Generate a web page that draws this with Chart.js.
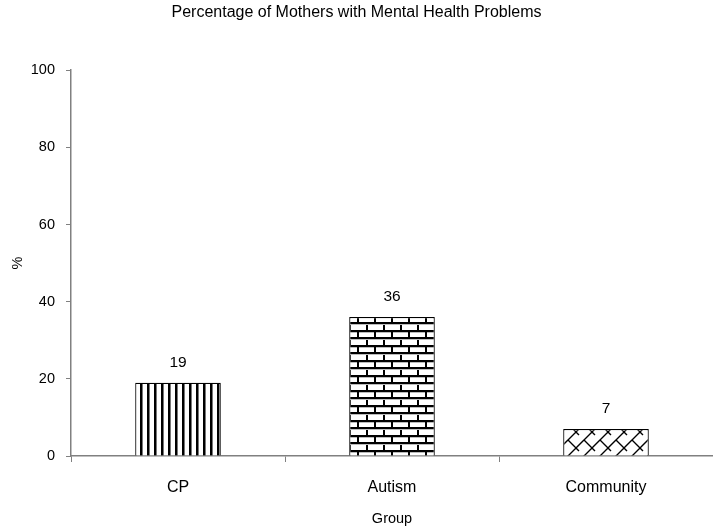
<!DOCTYPE html>
<html>
<head>
<meta charset="utf-8">
<script src="https://cdn.jsdelivr.net/npm/chart.js@4/dist/chart.umd.min.js"></script>
<style>
  html, body { margin: 0; padding: 0; background: #ffffff; }
  #wrap { width: 713px; height: 528px; }
</style>
</head>
<body>
<div id="wrap"><canvas id="c" width="713" height="528"></canvas></div>
<script>
const categories = ["CP", "Autism", "Community"];
const values = [19, 36, 7];
const yTicks = [0, 20, 40, 60, 80, 100];
const chartTitle = "Percentage of Mothers with Mental Health Problems";
const xTitle = "Group";
const yTitle = "%";

const FONT = "'Liberation Sans', Arial, sans-serif";

function makeTile(w, h, draw) {
  const c = document.createElement('canvas');
  c.width = w; c.height = h;
  const g = c.getContext('2d');
  g.fillStyle = '#ffffff';
  g.fillRect(0, 0, w, h);
  draw(g);
  return document.getElementById('c').getContext('2d').createPattern(c, 'repeat');
}
const patVertical = makeTile(7, 7, g => {
  g.fillStyle = '#000000';
  g.fillRect(0, 0, 2, 7);
  g.fillStyle = '#777777';
  g.fillRect(2, 0, 1, 7);
});
const patBrick = makeTile(17, 15, g => {
  g.fillStyle = '#000000';
  g.fillRect(0, 0, 17, 2);
  g.fillRect(0, 7, 17, 2);
  g.fillRect(0, 0, 2, 8);
  g.fillRect(9, 7, 2, 8);
  g.fillStyle = '#bbbbbb';
  g.fillRect(2, 2, 15, 1);
  g.fillRect(0, 9, 17, 1);
});
const patCross = makeTile(16, 16, g => {
  g.strokeStyle = '#000000';
  g.lineWidth = 1.4;
  g.beginPath();
  g.moveTo(-2, 18); g.lineTo(18, -2);
  g.moveTo(-2, 34); g.lineTo(34, -2);
  g.stroke();
  g.beginPath();
  g.moveTo(8, 8); g.lineTo(13, 13);
  g.moveTo(0, 0); g.lineTo(3, 3);
  g.moveTo(13, 13); g.lineTo(16, 16);
  g.stroke();
});

const valueLabels = {
  id: 'valueLabels',
  afterDatasetsDraw(chart) {
    const ctx = chart.ctx;
    const meta = chart.getDatasetMeta(0);
    ctx.save();
    ctx.font = "15.5px " + FONT;
    ctx.fillStyle = '#000000';
    ctx.textAlign = 'center';
    ctx.textBaseline = 'middle';
    meta.data.forEach((bar, i) => {
      ctx.fillText(String(values[i]), bar.x, bar.y - 20);
    });
    ctx.restore();
  }
};

new Chart(document.getElementById('c'), {
  type: 'bar',
  data: {
    labels: categories,
    datasets: [{
      data: values,
      backgroundColor: [patVertical, patBrick, patCross],
      borderColor: '#000000',
      borderWidth: 1.2,
      barPercentage: 0.4,
      categoryPercentage: 1.0
    }]
  },
  options: {
    responsive: false,
    animation: false,
    layout: { padding: 0 },
    plugins: {
      legend: { display: false },
      tooltip: { enabled: false },
      title: {
        display: true,
        text: chartTitle,
        color: '#000000',
        font: { family: FONT, size: 16, weight: 'normal' },
        padding: { top: 3, bottom: 48 }
      }
    },
    scales: {
      x: {
        offset: true,
        grid: {
          offset: true,
          drawOnChartArea: false,
          drawTicks: true,
          tickLength: 6,
          color: '#808080'
        },
        border: { color: '#808080', width: 1.5 },
        ticks: {
          color: '#000000',
          font: { family: FONT, size: 16 },
          padding: 16,
          maxRotation: 0
        },
        title: {
          display: true,
          text: xTitle,
          color: '#000000',
          font: { family: FONT, size: 14.5 },
          padding: { top: 0, bottom: 0 }
        },
        afterFit(scale) { scale.height = 72; }
      },
      y: {
        min: 0,
        max: 100,
        afterBuildTicks(scale) { scale.ticks = yTicks.map(v => ({ value: v })); },
        grid: {
          drawOnChartArea: false,
          drawTicks: true,
          tickLength: 5,
          color: '#808080'
        },
        border: { color: '#808080', width: 1.5 },
        ticks: {
          color: '#000000',
          font: { family: FONT, size: 14.5 },
          padding: 11
        },
        title: {
          display: true,
          text: yTitle,
          color: '#000000',
          font: { family: FONT, size: 14.5 },
          padding: { top: 9, bottom: 9 }
        },
        afterFit(scale) { scale.width = 71; }
      }
    }
  },
  plugins: [valueLabels]
});
</script>
</body>
</html>
